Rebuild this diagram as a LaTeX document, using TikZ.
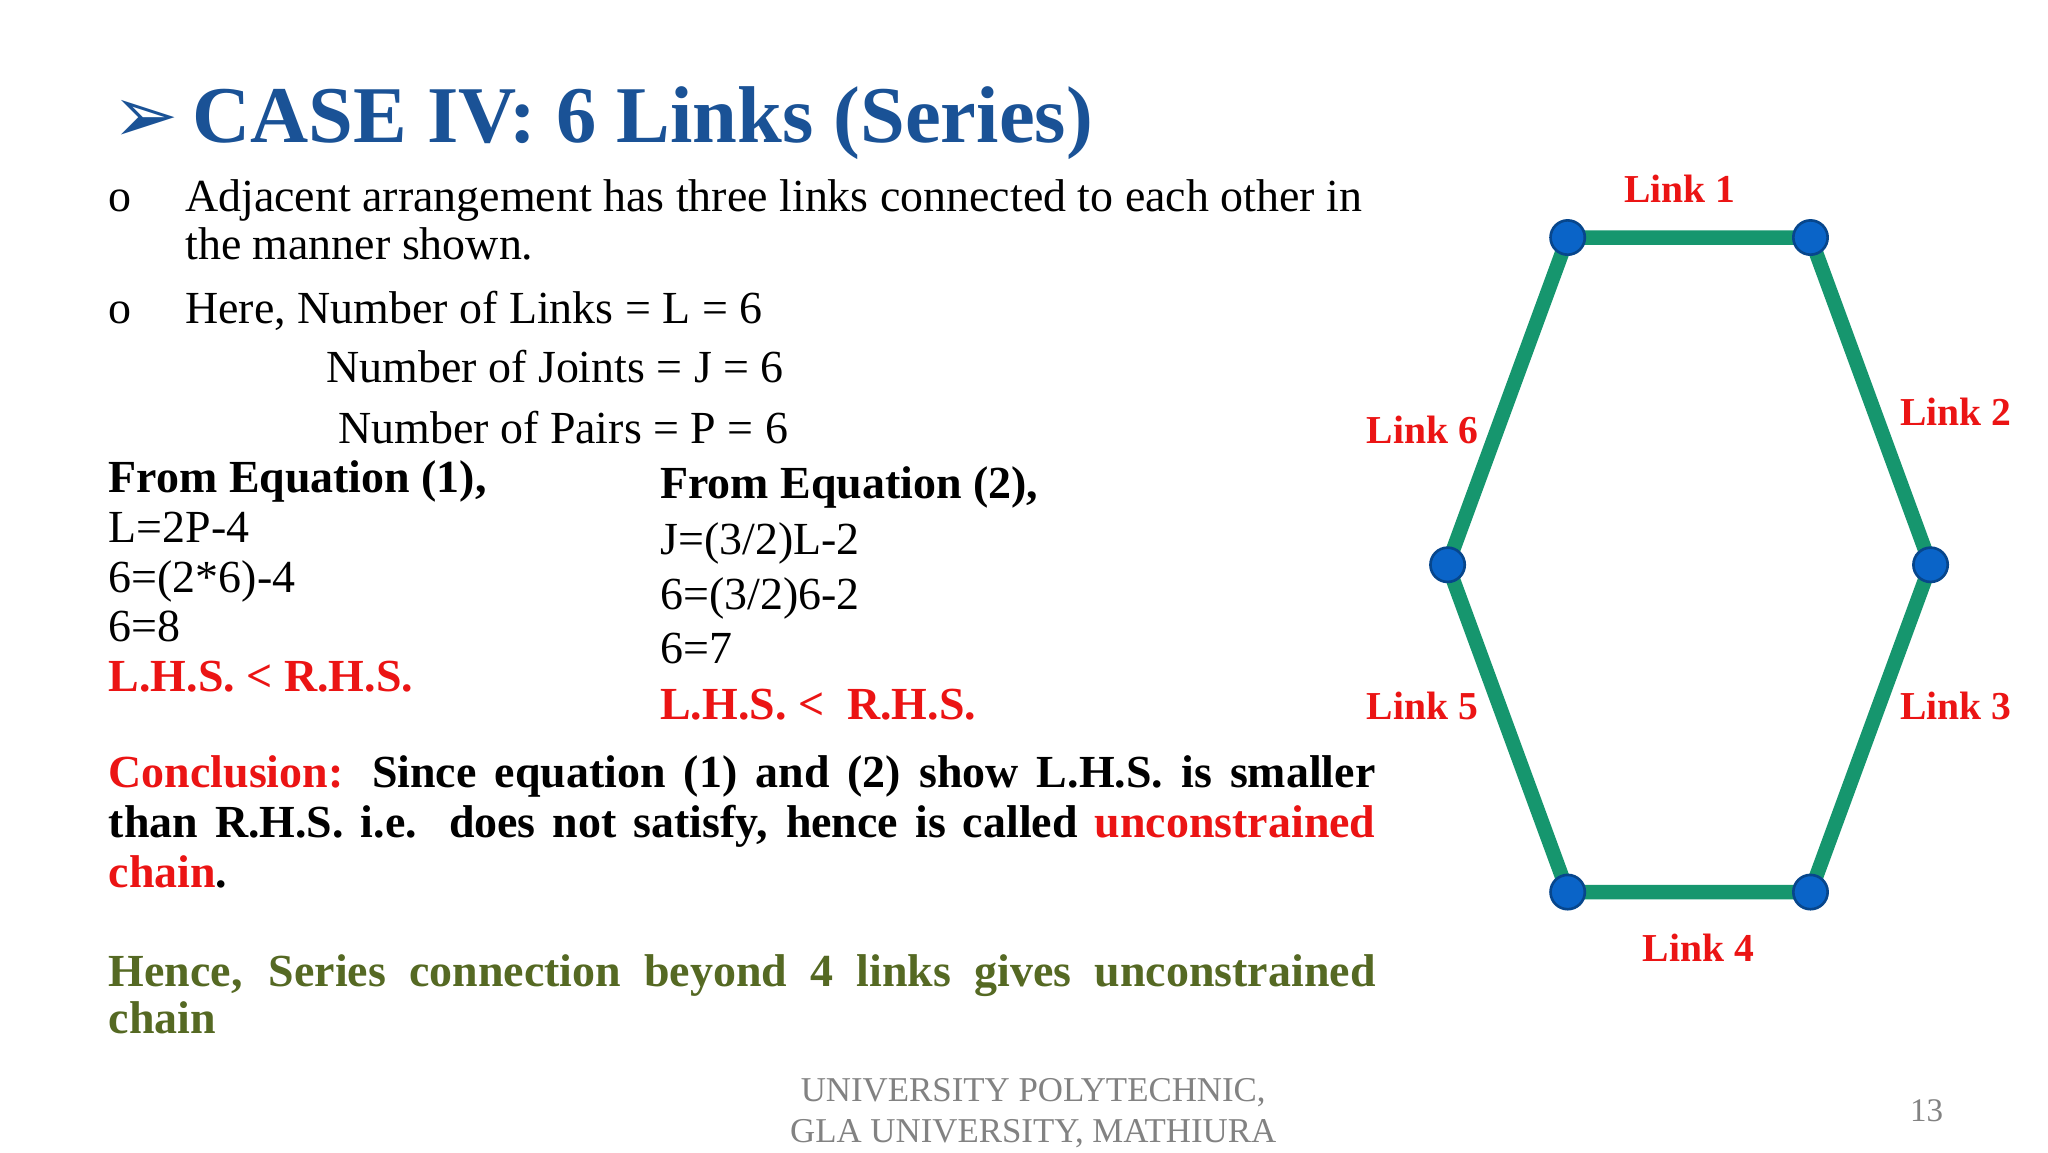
\documentclass[tikz,border=0pt]{standalone}
\usepackage{fontspec}
\setmainfont{Liberation Serif}
\newfontfamily\djv{DejaVu Sans}
\definecolor{ttl}{RGB}{26,82,150}
\definecolor{lnk}{RGB}{22,150,110}
\definecolor{jnt}{RGB}{10,100,200}
\definecolor{rd}{RGB}{235,20,20}
\definecolor{olv}{RGB}{85,105,35}
\definecolor{gry}{RGB}{130,130,130}
\begin{document}
\begin{tikzpicture}[x=0.5pt,y=-0.5pt,
 txt/.style={anchor=base west,inner sep=0,font=\fontsize{17.4}{20}\selectfont},
 btxt/.style={txt,font=\fontsize{17.4}{20}\selectfont\bfseries},
 lab/.style={inner sep=0,text=rd,font=\fontsize{15}{17}\selectfont\bfseries},
 jt/.style={circle,fill=jnt,draw=jnt!70!black,line width=1pt,minimum size=13pt,inner sep=0},
 bar/.style={lnk,line width=5.5pt}]
\useasboundingbox (0,0) rectangle (1552,873);
\fill[white] (0,0) rectangle (1552,873);
\node[anchor=base west,inner sep=0,text=ttl,font=\fontsize{30.5}{36}\selectfont\bfseries] (title) at (85,108) {{\djv\fontsize{30}{30}\selectfont ➢}\,CASE IV: 6 Links (Series)};
\node[txt] (b1) at (82,160) {o};
\node[txt] (t1) at (140,160) {Adjacent arrangement has three links connected to each other in};
\node[txt] (t2) at (140,197) {the manner shown.};
\node[txt] (b2) at (82,245) {o};
\node[txt] (t3) at (140,245) {Here, Number of Links = L = 6};
\node[txt] (t4) at (247,290) {Number of Joints = J = 6};
\node[txt] (t5) at (256,336) {Number of Pairs = P = 6};
\node[btxt] (e1) at (82,373) {From Equation (1),};
\node[txt] (e2) at (82,411) {L=2P-4};
\node[txt] (e3) at (82,449) {6=(2*6)-4};
\node[txt] (e4) at (82,486) {6=8};
\node[btxt,text=rd] (e5) at (82,524) {L.H.S. < R.H.S.};
\node[btxt] (f1) at (500,378) {From Equation (2),};
\node[txt] (f2) at (500,420) {J=(3/2)L-2};
\node[txt] (f3) at (500,462) {6=(3/2)6-2};
\node[txt] (f4) at (500,503) {6=7};
\node[btxt,text=rd] (f5) at (500,545) {L.H.S. <\ \ R.H.S.};
\node[anchor=north west,inner sep=0,text width=480pt,align=justify,font=\fontsize{17.4}{19}\selectfont\bfseries] (conc) at (82,572)
 {\textcolor{rd}{Conclusion:} Since equation (1) and (2) show L.H.S. is smaller\linebreak than R.H.S. i.e. does not satisfy, hence is called \textcolor{rd}{unconstrained\linebreak chain}.};
\node[anchor=north west,inner sep=0,text width=480pt,align=justify,text=olv,font=\fontsize{17.4}{18}\selectfont\bfseries] (hence) at (82,723)
 {Hence, Series connection beyond 4 links gives unconstrained chain};
\node[anchor=base,inner sep=0,text=gry,font=\fontsize{13.2}{15}\selectfont] (u1) at (783,835) {UNIVERSITY POLYTECHNIC,};
\node[anchor=base,inner sep=0,text=gry,font=\fontsize{13.2}{15}\selectfont] (u2) at (783,866) {GLA UNIVERSITY, MATHIURA};
\node[anchor=base,inner sep=0,text=gry,font=\fontsize{12.5}{14}\selectfont] (pg) at (1460,850) {13};
\coordinate (A) at (1188,180); \coordinate (B) at (1372,180); \coordinate (C) at (1463,428);
\coordinate (D) at (1372,676); \coordinate (E) at (1188,676); \coordinate (F) at (1097,428);
\draw[bar,line join=round] (A)--(B)--(C)--(D)--(E)--(F)--cycle;
\foreach \p in {A,B,C,D,E,F} \node[jt] (j\p) at (\p) {};
\node[lab] (l1) at (1273,143) {Link 1};
\node[lab] (l2) at (1482,312) {Link 2};
\node[lab] (l3) at (1482,535) {Link 3};
\node[lab] (l4) at (1287,718) {Link 4};
\node[lab] (l5) at (1078,535) {Link 5};
\node[lab] (l6) at (1078,326) {Link 6};
\end{tikzpicture}
\end{document}
